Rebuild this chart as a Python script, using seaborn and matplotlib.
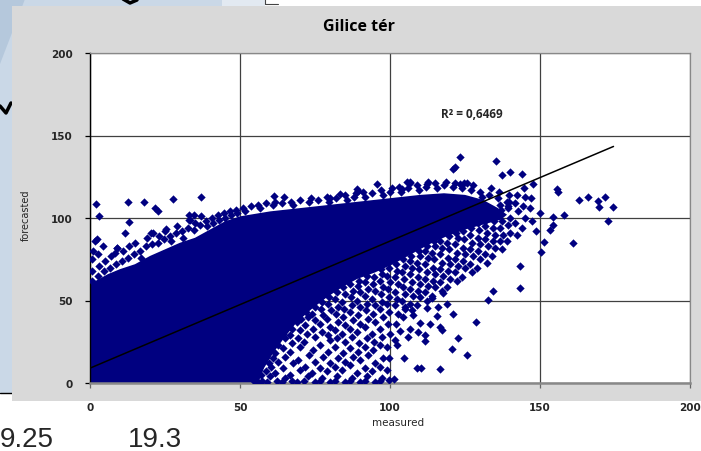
import matplotlib
matplotlib.use("Agg")
import matplotlib.pyplot as plt
from matplotlib.patches import Rectangle, Polygon
from matplotlib.lines import Line2D
import numpy as np
import pandas as pd
import seaborn as sns

title = "Gilice tér"
x_label = "measured"
y_label = "forecasted"
r2_label = "R² = 0,6469"
x_ticks = [0, 50, 100, 150, 200]
y_ticks = [0, 50, 100, 150, 200]
slide_labels = ["9.25", "19.3"]

# linear trendline
trend_slope = 0.77
trend_intercept = 9.0
trend_x = [0, 174.5]

# outline of the solid, fully overplotted part of the cloud
core_outline = [(0, 0), (0, 60), (3, 63), (6, 66), (10, 69), (15, 72), (20, 77),
                (25, 81), (30, 85), (35, 88), (40, 93), (45, 98), (50, 101),
                (60, 104), (70, 106), (80, 108), (90, 110), (100, 112), (110, 114),
                (118, 115), (125, 114), (131, 111), (136, 106), (139, 102),
                (137, 99), (131, 96), (125, 93), (119, 89), (113, 84), (107, 78),
                (101, 72), (95, 67), (89, 63), (84, 58), (79, 52), (74, 45),
                (69, 37), (65, 28), (61, 18), (58, 9), (56, 0)]

# points along the upper edge of the cloud
top_fringe = [(0.5, 62), (0.5, 68), (0.8, 75), (1.0, 80), (1.5, 86), (2.2, 87),
              (2.5, 65), (3.0, 71), (2.7, 78), (4.5, 68), (4.9, 74), (4.3, 83),
              (6.5, 70), (6.9, 77), (8.5, 72), (8.2, 79), (9.0, 82), (10.5, 74),
              (11.0, 80), (12.5, 76), (12.9, 83), (14.5, 78), (15.0, 85),
              (16.5, 80), (17.0, 76), (18.5, 83), (18.9, 88), (20.5, 84),
              (21.0, 91), (22.5, 85), (23.0, 89), (24.5, 87), (24.9, 92),
              (26.5, 89), (27.0, 86), (28.5, 91), (29.0, 95), (30.5, 92),
              (31.0, 88), (32.5, 94), (33.0, 99), (34.5, 93), (35.0, 97),
              (36.5, 96), (37.0, 101), (38.5, 98), (39.0, 95), (40.5, 100),
              (41.0, 97), (42.5, 102), (43.0, 99), (44.5, 103), (45.0, 100),
              (46.5, 104), (47.0, 102), (48.5, 105), (49.0, 103), (51.0, 106),
              (51.5, 104), (53.5, 107), (56.0, 108), (56.5, 106), (58.5, 109),
              (61.0, 108), (61.5, 110), (64.0, 109), (67.0, 110), (67.5, 108),
              (70.0, 111), (73.0, 110), (73.5, 112), (76.0, 111), (79.0, 113),
              (79.5, 110), (82.0, 112), (85.0, 114), (85.5, 111), (88.0, 113),
              (88.5, 115), (91.0, 116), (91.5, 113), (94.0, 115), (97.0, 117),
              (97.5, 114), (100.0, 116), (100.5, 118), (103.0, 119), (103.5, 116),
              (106.0, 118), (106.5, 121), (109.0, 120), (109.5, 117), (112.0, 119),
              (112.5, 122), (115.0, 121), (115.5, 118), (118.0, 120), (118.5, 122),
              (121.0, 119), (121.5, 121), (124.0, 118), (124.5, 121), (127.0, 117),
              (127.5, 120), (130.0, 116), (130.5, 113), (133.0, 114), (133.5, 118),
              (136.0, 112), (136.5, 108), (136.2, 116), (139.0, 110), (139.5, 114),
              (139.2, 107)]

# speckled band under the trendline (lower right of the cloud)
lower_spread = [(54.5, 1), (55.6, 4),
                (56.0, 0.5), (57.0, 5), (56.4, 9),
                (57.3, 1), (58.6, 7), (59.5, 12), (58.8, 16),
                (59.0, 0.5), (60.1, 4), (60.3, 10), (61.0, 15), (60.1, 20),
                (62.4, 1), (61.6, 6), (62.6, 13), (61.8, 18), (62.5, 23), (61.7, 26),
                (64.0, 0.5), (65.0, 3), (64.2, 9), (65.1, 16), (64.3, 21), (65.0, 27), (64.4, 30),
                (67.4, 1), (66.6, 5), (67.5, 12), (66.7, 19), (67.3, 24), (66.5, 29), (67.2, 33),
                (69.0, 0.5), (70.0, 8), (69.2, 14), (70.1, 22), (69.3, 27), (70.0, 32), (69.1, 37), (70.2, 39),
                (71.4, 1), (72.6, 4), (71.8, 10), (72.9, 17), (71.3, 25), (72.4, 30), (71.7, 35), (72.8, 40), (72.1, 43),
                (74.9, 0.5), (74.1, 6), (75.0, 13), (74.2, 20), (75.1, 28), (74.3, 33), (74.9, 38), (74.0, 42), (75.0, 46),
                (76.6, 1), (77.4, 3), (76.8, 9), (77.5, 16), (76.5, 23), (77.3, 31), (76.7, 36), (77.6, 41), (76.9, 45), (77.2, 49),
                (79.9, 0.5), (79.1, 7), (80.0, 12), (79.2, 19), (80.1, 26), (79.3, 29), (79.9, 34), (79.0, 39), (80.2, 44), (79.4, 48), (79.8, 52),
                (81.6, 1), (82.4, 4), (81.8, 10), (82.6, 15), (81.5, 22), (82.3, 27), (81.7, 32), (82.5, 37), (81.9, 42), (82.7, 46), (81.6, 51), (82.2, 55),
                (84.9, 0.5), (84.1, 8), (85.0, 13), (84.2, 18), (84.9, 25), (84.0, 30), (85.1, 35), (84.3, 40), (84.8, 45), (84.1, 49), (85.0, 54), (84.4, 58),
                (86.6, 1), (87.4, 3), (86.7, 11), (87.5, 16), (86.5, 21), (87.3, 28), (86.8, 33), (87.6, 38), (86.6, 43), (87.2, 47), (86.9, 52), (87.5, 56), (86.7, 60),
                (89.9, 0.5), (89.1, 6), (90.0, 14), (89.2, 19), (89.8, 24), (89.0, 31), (90.1, 36), (89.3, 41), (89.9, 46), (89.1, 50), (90.0, 55), (89.4, 59), (89.8, 62),
                (91.6, 1), (92.4, 4), (91.8, 9), (92.5, 17), (91.5, 22), (92.3, 27), (91.7, 34), (92.6, 39), (91.9, 44), (92.2, 48), (91.6, 53), (92.5, 57), (91.8, 61), (92.3, 65),
                (94.9, 0.5), (94.1, 7), (95.0, 12), (94.2, 20), (94.8, 25), (94.0, 30), (95.1, 37), (94.3, 42), (94.9, 47), (94.1, 51), (95.0, 56), (94.4, 60), (94.8, 64),
                (96.6, 1), (97.4, 3), (96.7, 10), (97.5, 15), (96.5, 23), (97.3, 28), (96.8, 33), (97.6, 40), (96.6, 45), (97.2, 49), (96.9, 54), (97.5, 58), (96.7, 62), (97.3, 66), (96.9, 69),
                (99.5, 2), (99.0, 8), (99.8, 15), (99.1, 22), (99.9, 30), (99.2, 36), (99.7, 43), (99.0, 48), (99.8, 52), (99.3, 57), (99.9, 61), (99.1, 65), (99.6, 70),
                (102.0, 36), (102.5, 42), (101.6, 47), (102.4, 51), (101.8, 55), (102.6, 60), (101.7, 64), (102.3, 68), (101.9, 72),
                (104.2, 40), (104.9, 45), (104.0, 50), (105.0, 54), (104.3, 58), (104.8, 63), (104.1, 67), (104.9, 71), (104.4, 75),
                (107.3, 44), (106.6, 48), (107.5, 53), (106.8, 57), (107.2, 61), (106.5, 66), (107.4, 70), (106.7, 74), (107.1, 77),
                (109.0, 47), (109.9, 52), (109.2, 56), (110.0, 60), (109.3, 64), (109.8, 69), (109.0, 73), (110.1, 77), (109.5, 80),
                (112.4, 50), (111.6, 55), (112.5, 59), (111.8, 63), (112.3, 67), (111.5, 72), (112.6, 76), (111.7, 80), (112.2, 83),
                (114.0, 53), (114.9, 58), (114.2, 62), (115.0, 66), (114.3, 70), (114.8, 75), (114.1, 79), (115.1, 83), (114.5, 86),
                (117.3, 56), (116.6, 61), (117.5, 65), (116.7, 69), (117.2, 73), (116.5, 78), (117.4, 82), (116.8, 86),
                (119.0, 58), (119.9, 63), (119.2, 68), (120.0, 72), (119.3, 76), (119.8, 81), (119.1, 85), (119.7, 89),
                (122.4, 62), (121.6, 67), (122.5, 71), (121.8, 75), (122.3, 79), (121.5, 84), (122.6, 88), (121.9, 91),
                (124.0, 64), (124.9, 70), (124.2, 74), (125.0, 78), (124.3, 82), (124.8, 87), (124.4, 92),
                (127.3, 67), (126.6, 72), (127.5, 77), (126.8, 81), (127.2, 85), (126.5, 90), (127.1, 94),
                (129.0, 70), (129.9, 75), (129.2, 80), (130.0, 84), (129.3, 88), (129.8, 93), (129.4, 97),
                (132.4, 73), (131.6, 78), (132.5, 83), (131.8, 87), (132.3, 91), (131.5, 95), (132.1, 99),
                (134.0, 77), (134.9, 82), (134.2, 86), (135.0, 90), (134.3, 94), (134.8, 98), (134.4, 101),
                (137.3, 81), (136.6, 86), (137.5, 90), (136.8, 94), (137.2, 98), (136.5, 102), (137.1, 105),
                (139.0, 86), (139.9, 91), (139.2, 96), (140.0, 100), (139.3, 106), (139.8, 110),
                (142.4, 90), (141.6, 97), (142.5, 104), (141.8, 109), (142.2, 114),
                (144.0, 94), (144.9, 100), (144.2, 107), (145.0, 113), (144.5, 118),
                (147.3, 98), (146.6, 106), (147.1, 112)]

# isolated points around the cloud
outliers = [(1.9, 108.7), (3.1, 101), (12.8, 109.5), (13.1, 97.8), (18.1, 109.6),
            (11.7, 91), (27.8, 111.5), (21.7, 105.9), (22.6, 104.4), (36.9, 112.9),
            (33.1, 102), (33.4, 99), (34.7, 102), (8.9, 81.8), (20.3, 90.7),
            (25.3, 93.3), (61.2, 113.5), (64.8, 112.9), (80.0, 112), (83.3, 114.5),
            (88.9, 117.6), (89.4, 116.2), (95.6, 120.6), (105.6, 122), (106.7, 122),
            (103.9, 117.6), (112.2, 120.6), (121.1, 129.7), (121.7, 130.7),
            (123.3, 136.7), (123.3, 120.6), (125.6, 121), (135.3, 134.7),
            (140.0, 127.8), (137.2, 126.2), (143.9, 126.7), (147.6, 120.6),
            (155.6, 117.6), (155.9, 116), (162.9, 110.9), (165.9, 112.9),
            (169.4, 110.1), (171.7, 112.5), (169.8, 106.5), (174.4, 106.9),
            (172.6, 98.4), (158.0, 102), (154.4, 100.4), (154.2, 95.8),
            (153.3, 92.9), (161.1, 84.8), (151.3, 85.6), (150.2, 79.2),
            (150.0, 102.8), (148.7, 92.3), (143.3, 71.1), (143.3, 57.6),
            (132.8, 50.3), (134.4, 55.9), (128.7, 36.8), (122.8, 27), (120.6, 20.6),
            (125.8, 17.2), (116.7, 8.5), (108.9, 8.9), (110.3, 8.9), (104.8, 15),
            (101.3, 2.4), (120.9, 41.8), (117.2, 32.1), (111.7, 25.6), (115.6, 40.4),
            (119.1, 47.9), (111.7, 29), (109.4, 30.7), (113.3, 36), (116.7, 34.1),
            (106.0, 28), (102.2, 23), (101.7, 26), (103.3, 31.5), (106.7, 33),
            (110.0, 36.2), (107.8, 41.2), (105.0, 46.2), (112.2, 45.3), (116.1, 46.2),
            (113.9, 51.3), (117.8, 54.3)]

navy = "#000080"
W, H = 701, 452

sns.set_style("white")
plt.rcParams["font.family"] = ["DejaVu Sans"]

fig = plt.figure(figsize=(W / 100, H / 100), dpi=100)
fig.patch.set_facecolor("white")


def fx(px):
    return px / W


def fy(py):
    return 1 - py / H


# slide background around the chart
fig.add_artist(Rectangle((0, fy(394)), fx(12), 1 - fy(394), transform=fig.transFigure,
                         facecolor="#cad8e7", edgecolor="none", zorder=0))
fig.add_artist(Rectangle((0, fy(8)), fx(265), 1 - fy(8), transform=fig.transFigure,
                         facecolor="#cad8e7", edgecolor="none", zorder=0))
fig.add_artist(Rectangle((fx(222), fy(8)), fx(43), 1 - fy(8), transform=fig.transFigure,
                         facecolor="#e2e9f1", edgecolor="none", zorder=0))
fig.add_artist(Polygon([(0, 1), (fx(25), 1), (0, fy(65))], closed=True,
                       transform=fig.transFigure, facecolor="#b5c8dc",
                       edgecolor="none", zorder=0))
fig.add_artist(Line2D([0, fx(12)], [fy(394), fy(394)], transform=fig.transFigure,
                      color="black", lw=1, zorder=1))
fig.add_artist(Line2D([fx(265), fx(265), fx(278)], [1, fy(5), fy(5)],
                      transform=fig.transFigure, color="#444444", lw=0.8, zorder=1))
fig.add_artist(Line2D([fx(123), fx(130), fx(137)], [1, fy(4), fy(1)],
                      transform=fig.transFigure, color="black", lw=2.5, zorder=1))
fig.add_artist(Line2D([0, fx(6), fx(11)], [fy(107), fy(114), fy(104)],
                      transform=fig.transFigure, color="black", lw=2.5, zorder=1))
# chart area
fig.add_artist(Rectangle((fx(12), fy(402)), fx(689), fy(7) - fy(402),
                         transform=fig.transFigure, facecolor="#d9d9d9",
                         edgecolor="none", zorder=1))

ax = fig.add_axes([fx(90), fy(384), fx(690) - fx(90), fy(54) - fy(384)], zorder=2)
ax.set_facecolor("white")

# solid mass of overplotted points
ax.fill([p[0] for p in core_outline], [p[1] for p in core_outline],
        color=navy, lw=0, zorder=2)

pts = pd.DataFrame(top_fringe + lower_spread + outliers, columns=["measured", "forecasted"])
sns.scatterplot(data=pts, x="measured", y="forecasted", ax=ax, marker="D", s=18,
                color=navy, linewidth=0, zorder=3, clip_on=True)

line_y = [trend_intercept + trend_slope * v for v in trend_x]
sns.lineplot(x=trend_x, y=line_y, ax=ax, color="black", lw=1.1, zorder=4)

ax.set_xlim(0, 200)
ax.set_ylim(0, 200)
ax.set_xticks(x_ticks)
ax.set_yticks(y_ticks)
ax.grid(True, color="#404040", lw=0.9)
ax.set_axisbelow(True)
for side in ["top", "right"]:
    ax.spines[side].set_color("#888888")
    ax.spines[side].set_linewidth(0.9)
ax.spines["left"].set_color("black")
ax.spines["left"].set_linewidth(1)
ax.spines["bottom"].set_color("#888888")
ax.spines["bottom"].set_linewidth(1.8)
ax.tick_params(axis="y", direction="out", length=3.5, width=0.9, color="black",
               pad=9, labelsize=7.5, left=True)
ax.tick_params(axis="x", direction="out", length=3.5, width=0.9, color="#666666",
               pad=10, labelsize=7.5, bottom=True)
for lab in ax.get_xticklabels() + ax.get_yticklabels():
    lab.set_fontweight("bold")

ax.set_xlabel(x_label, fontsize=7.5)
ax.set_ylabel(y_label, fontsize=7)
ax.xaxis.set_label_coords(0.513, -0.103)
ax.yaxis.set_label_coords(-0.098, 0.512)

ax.text(127.3, 163.6, r2_label, ha="center", va="center", fontsize=8.5,
        fontweight="bold", family=["Open Sans", "DejaVu Sans"], zorder=5)
fig.text(fx(359), fy(27), title, ha="center", va="center", fontsize=11.5,
         fontweight="bold", color="black", family=["Open Sans", "DejaVu Sans"], zorder=5)

fig.text(fx(0), fy(447), slide_labels[0], ha="left", va="baseline", fontsize=20,
         family=["Liberation Sans"], zorder=5)
fig.text(fx(128), fy(447), slide_labels[1], ha="left", va="baseline", fontsize=20,
         family=["Liberation Sans"], zorder=5)

fig.savefig("out.png", dpi=100)
